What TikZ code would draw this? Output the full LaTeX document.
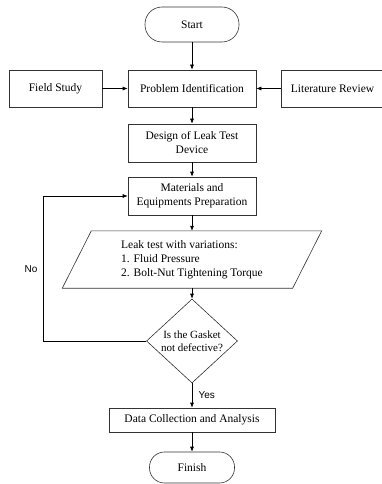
\documentclass[tikz,border=0pt]{standalone}
\usepackage{fontspec}
\setmainfont{Liberation Serif}
\newfontfamily\labelfont{Liberation Sans}
\usetikzlibrary{arrows.meta, calc, shapes.geometric}

\begin{document}
\begin{tikzpicture}[x=1pt, y=-1pt,
  outline/.style={draw=black!80, line width=0.6pt},
  box/.style={outline, align=center, inner sep=2pt, font=\fontsize{11.5}{14}\selectfont},
  term/.style={box, rounded corners=15pt},
  flow/.style={-{Latex[length=5pt, width=4pt]}, line width=0.6pt},
  tag/.style={font=\labelfont\fontsize{10}{12}\selectfont}]
  \useasboundingbox (0,0) rectangle (382,484);

  % Start
  \node[term, minimum width=94pt, minimum height=35pt, rounded corners=17pt] (start) at (192,24.5) {Start};

  % Problem identification row
  \node[box, minimum width=93pt, minimum height=37pt] (field) at (55.5,88.5) {Field Study};
  \node[box, minimum width=128pt, minimum height=37pt] (prob) at (192,88.5) {Problem Identification};
  \node[box, minimum width=103pt, minimum height=37pt] (lit) at (332.5,88.5) {Literature Review};

  % Design and preparation
  \node[box, minimum width=128pt, minimum height=38pt] (design) at (192,143) {Design of Leak Test\\Device};
  \node[box, minimum width=128pt, minimum height=38pt] (mat) at (192,196) {Materials and\\Equipments Preparation};

  % Leak test (parallelogram)
  \node[align=left, font=\fontsize{11.5}{14}\selectfont, minimum width=230pt, minimum height=57pt] (leak) at (192,259.5)
    {Leak test with variations:\\1. Fluid Pressure\\2. Bolt-Nut Tightening Torque};
  \draw[outline] ($(leak.north west)+(14.5,0)$) -- ($(leak.north east)+(14.5,0)$)
    -- ($(leak.south east)+(-14.5,0)$) -- ($(leak.south west)+(-14.5,0)$) -- cycle;

  % Decision
  \node[outline, diamond, align=center, inner sep=0pt, aspect=1.08, font=\fontsize{11}{13}\selectfont,
    minimum width=91pt, minimum height=84pt] (check) at (192,341) {Is the Gasket\\not defective?};

  % Data and finish
  \node[box, minimum width=166pt, minimum height=24pt] (data) at (192,420) {Data Collection and Analysis};
  \node[term, minimum width=85pt, minimum height=31pt] (finish) at (192,467.5) {Finish};

  % Arrows
  \draw[flow] (start) -- (prob);
  \draw[flow] (field) -- (prob);
  \draw[flow] (lit) -- (prob);
  \draw[flow] (prob) -- (design);
  \draw[flow] (design) -- (mat);
  \draw[flow] (mat) -- (leak);
  \draw[flow] (leak) -- (check);
  \draw[flow] (check) -- node[tag, right=3pt] (yes) {Yes} (data);
  \draw[flow] (data) -- (finish);

  % No loop
  \coordinate (turn) at (43,341);
  \draw[flow] (check.west) -- (turn) |- (mat.west);
  \node[tag] (no) at (31,269) {No};
\end{tikzpicture}
\end{document}
